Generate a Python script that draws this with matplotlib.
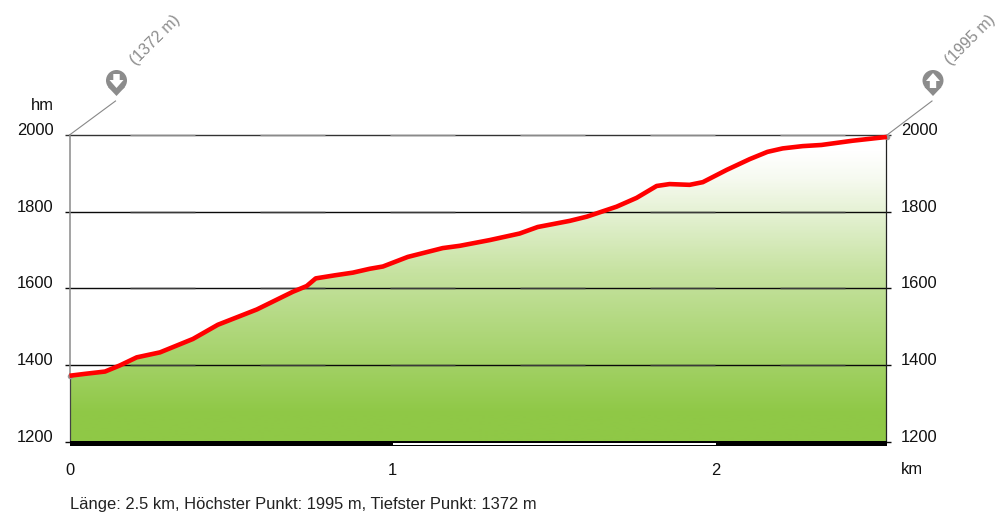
import numpy as np
import matplotlib
matplotlib.use("Agg")
import matplotlib.pyplot as plt
from matplotlib.colors import LinearSegmentedColormap
from matplotlib.patches import Circle, Polygon, Rectangle

plt.rcParams['font.family'] = ['Liberation Sans', 'DejaVu Sans']

# profile
dist_km = [0, 0.048, 0.110, 0.156, 0.208, 0.280, 0.382, 0.459, 0.580, 0.691,
           0.734, 0.762, 0.821, 0.877, 0.929, 0.970, 1.047, 1.155, 1.208, 1.301,
           1.393, 1.449, 1.548, 1.601, 1.693, 1.755, 1.817, 1.857, 1.919, 1.960,
           2.034, 2.105, 2.160, 2.207, 2.269, 2.327, 2.423, 2.530]
elev_m = [1372, 1377, 1383, 1399, 1420, 1433, 1468, 1505, 1545, 1591,
          1606, 1626, 1634, 1641, 1651, 1657, 1682, 1705, 1711, 1726,
          1743, 1760, 1776, 1787, 1813, 1836, 1867, 1872, 1870, 1877,
          1909, 1937, 1956, 1965, 1971, 1974, 1985, 1995]
y_ticks = [1200, 1400, 1600, 1800, 2000]
x_ticks = [0, 1, 2]
footer = "Länge: 2.5 km, Höchster Punkt: 1995 m, Tiefster Punkt: 1372 m"
low_label = "(1372 m)"
high_label = "(1995 m)"

W, H = 997, 514
fig = plt.figure(figsize=(W / 100, H / 100), dpi=100)

# plot area in pixels: x 69.5-887, y 135-441.7
ax = fig.add_axes([69.5 / W, 1 - 441.7 / H, (887 - 69.5) / W, (441.7 - 135) / H])
ax.set_xlim(0, 2.53)
ax.set_ylim(1200, 2000)
ax.axis('off')

# overlay in pixel coordinates for the decoration
deco = fig.add_axes([0, 0, 1, 1], zorder=5)
deco.set_xlim(0, W)
deco.set_ylim(H, 0)
deco.axis('off')
deco.patch.set_alpha(0)

# green fade under the profile
cmap = LinearSegmentedColormap.from_list(
    'fade', [(0, '#8fc846'), (0.09, '#8fc846'), (0.55, '#c6e2a0'), (0.86, '#f6faf0'), (0.95, '#ffffff'), (1, '#ffffff')])
grad = np.linspace(0, 1, 300).reshape(-1, 1)
img = ax.imshow(grad, extent=[0, 2.53, 1200, 2000], origin='lower', aspect='auto', cmap=cmap, zorder=1)
poly = ax.fill_between(dist_km, elev_m, 1200, color='none', zorder=1)
img.set_clip_path(poly.get_paths()[0], transform=ax.transData)

# grid, black with alternating softer dashes every 65 px
dash_px = 65 / (100 / 72)
for y in y_ticks:
    base = '#333333' if y == 2000 else '#0a0a0a'
    soft = '#8a8a8a' if y == 2000 else '#3a3a3a'
    ax.plot([-0.015, 2.541], [y, y], color=base, lw=1.0, clip_on=False, zorder=2, solid_capstyle='butt')
    ax.plot([-0.015, 2.541], [y, y], color=soft, lw=1.0, clip_on=False, zorder=2, solid_capstyle='butt',
            linestyle=(dash_px, (dash_px, dash_px)))

# left edge grey above the profile, dark under it, right edge dark
ax.plot([0, 0], [1372, 2000], color='#8a8a8a', lw=1.1, clip_on=False, zorder=3)
ax.plot([0, 0], [1200, 1372], color='#444444', lw=0.9, clip_on=False, zorder=3)
ax.plot([2.527, 2.527], [1200, 2000], color='#222222', lw=0.9, clip_on=False, zorder=3)

ax.plot([dist_km[0], dist_km[-1]], [elev_m[0], elev_m[-1]], 'o', ms=4, color='#999999', mec='none', zorder=3.5, clip_on=False)
ax.plot(dist_km, elev_m, color='#ff0000', lw=3.3, zorder=4, solid_capstyle='butt', clip_on=False)

# km scale bar
deco.add_patch(Rectangle((69.5, 441), 323.5, 5, fc='black', ec='none'))
deco.add_patch(Rectangle((393, 441), 323, 5, fc='black', ec='none'))
deco.add_patch(Rectangle((393, 442.6), 323, 2.4, fc='white', ec='none'))
deco.add_patch(Rectangle((716, 441), 171, 5, fc='black', ec='none'))

for y in y_ticks:
    ax.annotate(str(y), (0, y), xytext=(-16, 4.5), textcoords='offset pixels', ha='right', va='center',
                fontsize=11.9, color='#111111')
    ax.annotate(str(y), (2.53, y), xytext=(14, 4.5), textcoords='offset pixels', ha='left', va='center',
                fontsize=11.9, color='#111111')
for x in x_ticks:
    ax.annotate(str(x), (x, 1200), xytext=(0, -29), textcoords='offset pixels', ha='center', va='center',
                fontsize=11.9, color='#111111')

deco.text(53.5, 106, "hm", ha='right', va='center', fontsize=11.9, color='#111111')
deco.text(901, 470, "km", ha='left', va='center', fontsize=11.9, color='#111111')
deco.text(70, 505, footer, ha='left', va='center', fontsize=11.87, color='#222222')


def pin(cx, base_x, up, label, label_x):
    # leader line, pin head and arrow
    deco.plot([base_x, cx - 1], [135, 101], color='#888888', lw=0.8, zorder=3)
    deco.add_patch(Circle((cx, 80.5), 10.5, fc='#8c8c8c', ec='none', zorder=4))
    deco.add_patch(Polygon([(cx - 8.5, 87), (cx + 8.5, 87), (cx, 96)], fc='#8c8c8c', ec='none', zorder=4))
    if up:
        pts = [(cx, 73), (cx + 7, 81), (cx + 3.2, 81), (cx + 3.2, 88), (cx - 3.2, 88), (cx - 3.2, 81), (cx - 7, 81)]
    else:
        pts = [(cx, 88), (cx + 7, 80), (cx + 3.2, 80), (cx + 3.2, 74), (cx - 3.2, 74), (cx - 3.2, 80), (cx - 7, 80)]
    deco.add_patch(Polygon(pts, fc='white', ec='none', zorder=5))
    deco.text(label_x, 40, label, rotation=45, ha='center', va='center', rotation_mode='anchor',
              fontsize=11.5, color='#8c8c8c')


pin(116.5, 69.5, False, low_label, 155)
pin(933, 887, True, high_label, 970.5)

fig.savefig("out.png", dpi=100)
